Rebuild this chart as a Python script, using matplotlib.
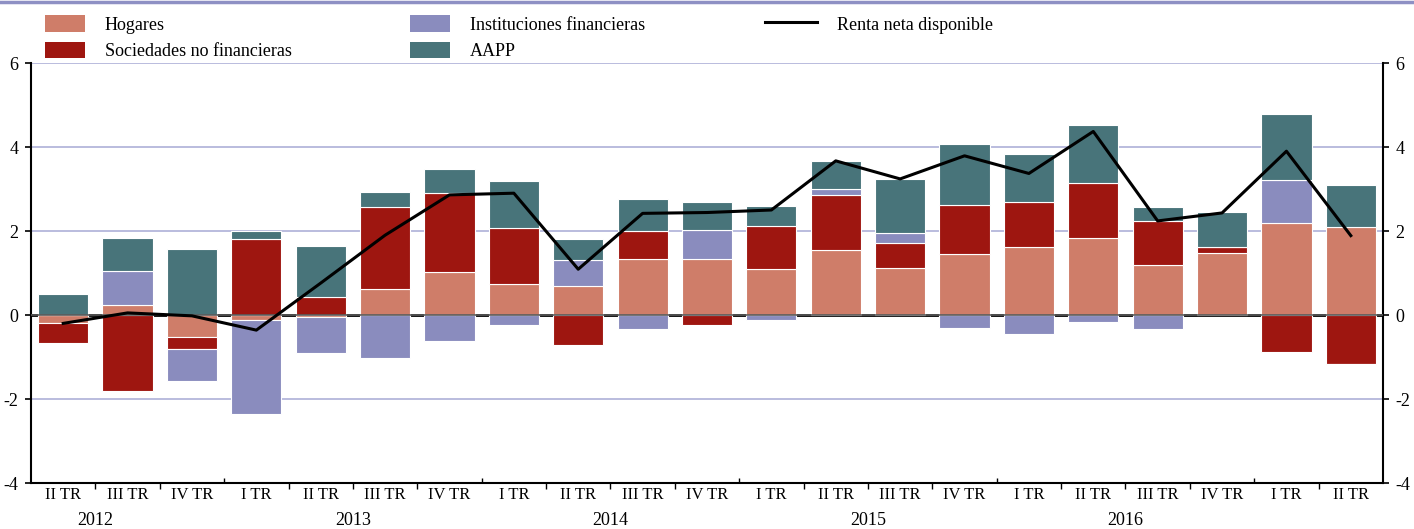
import numpy as np
import matplotlib
matplotlib.use('Agg')
import matplotlib.pyplot as plt
import matplotlib.transforms as mtransforms
from matplotlib.patches import Patch
from matplotlib.lines import Line2D

plt.rcParams['font.family'] = ['Liberation Serif', 'DejaVu Serif']
plt.rcParams['axes.unicode_minus'] = False

# datos (puntos porcentuales)
trimestres = ['II TR', 'III TR', 'IV TR',
              'I TR', 'II TR', 'III TR', 'IV TR',
              'I TR', 'II TR', 'III TR', 'IV TR',
              'I TR', 'II TR', 'III TR', 'IV TR',
              'I TR', 'II TR', 'III TR', 'IV TR',
              'I TR', 'II TR']
anios = ['2012', '2013', '2014', '2015', '2016']
anio_pos = [0.5, 4.5, 8.5, 12.5, 16.5]

hogares = [-0.20, 0.24, -0.52, -0.13, -0.04, 0.63, 1.02, 0.75, 0.68, 1.34, 1.34,
           1.10, 1.55, 1.13, 1.45, 1.63, 1.84, 1.18, 1.48, 2.19, 2.09]
sociedades = [-0.46, -1.81, -0.29, 1.81, 0.44, 1.94, 1.88, 1.32, -0.71, 0.67, -0.24,
              1.02, 1.31, 0.59, 1.16, 1.06, 1.31, 1.06, 0.14, -0.89, -1.17]
instituciones = [0.00, 0.81, -0.76, -2.23, -0.86, -1.02, -0.62, -0.24, 0.64, -0.33, 0.69,
                 -0.12, 0.13, 0.24, -0.30, -0.46, -0.16, -0.33, 0.00, 1.03, -0.03]
aapp = [0.51, 0.79, 1.56, 0.20, 1.20, 0.35, 0.58, 1.11, 0.48, 0.75, 0.66,
        0.48, 0.67, 1.27, 1.47, 1.15, 1.37, 0.32, 0.83, 1.56, 1.00]
renta = [-0.20, 0.05, -0.02, -0.36, 0.76, 1.90, 2.86, 2.90, 1.09, 2.42, 2.44,
         2.50, 3.67, 3.24, 3.79, 3.37, 4.37, 2.24, 2.43, 3.90, 1.89]

series = [('Hogares', hogares, '#CF7D69'),
          ('Sociedades no financieras', sociedades, '#9E1610'),
          ('Instituciones financieras', instituciones, '#8A8CBE'),
          ('AAPP', aapp, '#48747A')]

fig = plt.figure(figsize=(14.14, 5.29), dpi=100)
ax = fig.add_axes([31/1414, 1 - 483/529, (1383 - 31)/1414, 420/529])

x = np.arange(len(trimestres))
pos_base = np.zeros(len(x))
neg_base = np.zeros(len(x))
for nombre, vals, col in series:
    v = np.array(vals)
    base = np.where(v >= 0, pos_base, neg_base)
    ax.bar(x, v, 0.78, bottom=base, color=col, edgecolor='white', linewidth=0.8, zorder=3)
    pos_base = pos_base + np.where(v >= 0, v, 0)
    neg_base = neg_base + np.where(v < 0, v, 0)

ax.axhline(0, color='black', lw=2, zorder=2)
ax.axhline(0, color='#5a5a5a', lw=1.2, zorder=4)
ax.plot(x, renta, color='black', lw=2.2, zorder=5)

ax.set_xlim(-0.5, 20.5)
ax.set_ylim(-4, 6)
ax.set_yticks([-4, -2, 0, 2, 4, 6])
ax.yaxis.grid(True, color='#AEB0D8', lw=1.2, zorder=0)
ax.set_axisbelow(True)
ax.tick_params(axis='y', which='both', left=True, right=True, labelleft=True,
               labelright=True, direction='out', length=4, width=1.2,
               labelsize=13, pad=5)

ax.spines['top'].set_visible(False)
for s in ['left', 'right', 'bottom']:
    ax.spines[s].set_linewidth(1.5)

ax.set_xticks(x)
ax.set_xticklabels(trimestres, fontsize=12)
ax.tick_params(axis='x', which='major', length=0, pad=3)

# separadores de trimestre y de año
sep = [i + 0.5 for i in range(20)]
anio_sep = [2.5, 6.5, 10.5, 14.5, 18.5]
ax.set_xticks([s for s in sep if s not in anio_sep], minor=True)
ax.tick_params(axis='x', which='minor', direction='out', length=4, width=1)
trans = mtransforms.blended_transform_factory(ax.transData, ax.transAxes)
ax.vlines(anio_sep, 0, 0.012, transform=trans, color='black', lw=1, clip_on=False)

for a, p in zip(anios, anio_pos):
    ax.text(p, -0.09, a, transform=trans, ha='center', va='center', fontsize=13)

# leyenda
leg_kw = dict(loc='upper left', frameon=False, borderpad=0, borderaxespad=0,
              fontsize=13, handletextpad=1.1, labelspacing=0.45)
h = [Patch(facecolor=c, edgecolor='none') for _, _, c in series]
fig.legend(h[:2], [s[0] for s in series[:2]], bbox_to_anchor=(45/1414, 0.971),
           handlelength=2.2, handleheight=1.0, **leg_kw)
fig.legend(h[2:], [s[0] for s in series[2:]], bbox_to_anchor=(410/1414, 0.971),
           handlelength=2.2, handleheight=1.0, **leg_kw)
fig.legend([Line2D([], [], color='black', lw=2.2)], ['Renta neta disponible'],
           bbox_to_anchor=(765/1414, 0.971), handlelength=2.9, handleheight=1.0, **leg_kw)

fig.add_artist(Line2D([0, 1], [0.997, 0.997], transform=fig.transFigure,
                      color='#8E90C4', lw=2.5))

plt.savefig('out.png', dpi=100)
